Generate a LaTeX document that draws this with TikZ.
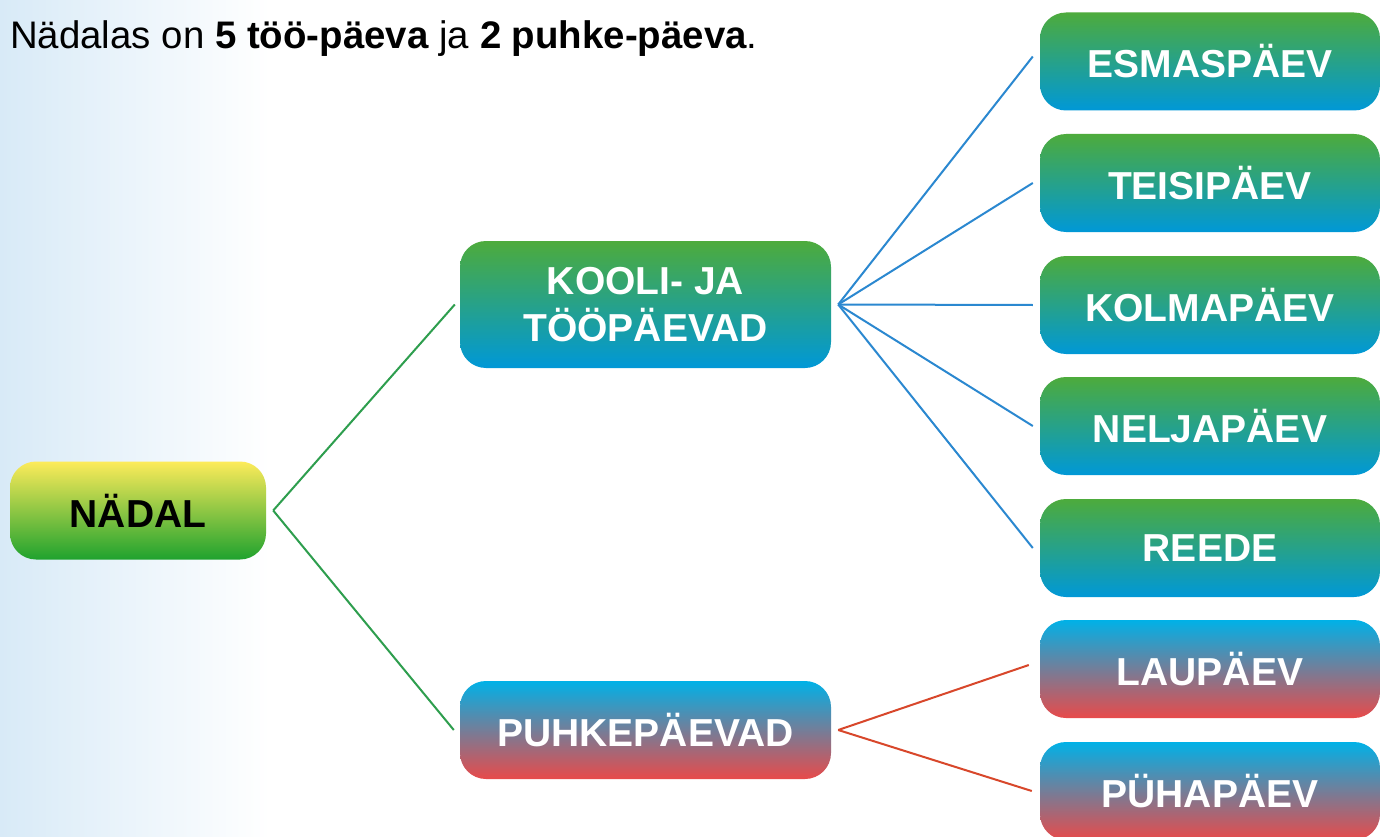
\documentclass[tikz,border=0pt]{standalone}
\usepackage{fontspec}
\setmainfont{Liberation Sans}
\definecolor{bgblue}{HTML}{D8EAF7}
\definecolor{ytop}{HTML}{FDEB5A}
\definecolor{ymid}{HTML}{A9CB46}
\definecolor{ybot}{HTML}{1FA22E}
\definecolor{gtop}{HTML}{4DAB3C}
\definecolor{gmid}{HTML}{20A097}
\definecolor{gbot}{HTML}{0098D7}
\definecolor{rtop}{HTML}{00B1E7}
\definecolor{rmid}{HTML}{B2878D}
\definecolor{rbot}{HTML}{E84A4A}
\definecolor{lgreen}{HTML}{2E9E4E}
\definecolor{lblue}{HTML}{2B88D0}
\definecolor{lred}{HTML}{D8472B}
\begin{document}
\begin{tikzpicture}[x=1pt,y=-1pt,
  box/.style={rounded corners=26pt, inner sep=0pt, align=center,
    font=\fontsize{39}{47}\selectfont\bfseries, text=white},
  yellowbox/.style={box, top color=ytop, middle color=ymid, bottom color=ybot, text=black},
  greenbox/.style={box, top color=gtop, middle color=gmid, bottom color=gbot},
  redbox/.style={box, top color=rtop, middle color=rmid, bottom color=rbot},
  day/.style={minimum width=340pt, minimum height=98pt},
  link/.style={line width=2pt}]
\useasboundingbox (0,0) rectangle (1381,837);
\clip (0,0) rectangle (1381,837);
\fill[white] (0,0) rectangle (1381,837);
\shade[left color=bgblue, right color=white] (0,0) rectangle (270,837);

\node[anchor=base west, inner sep=0pt, font=\fontsize{38.4}{46}\selectfont] (head) at (10,49)
  {Nädalas on \textbf{5 töö-päeva} ja \textbf{2 puhke-päeva}.};

\node[yellowbox, minimum width=256pt, minimum height=98pt] (nadal) at (138,510.5) {NÄDAL};
\node[greenbox, minimum width=371pt, minimum height=127pt] (kooli) at (645.5,304.5) {KOOLI- JA\\TÖÖPÄEVAD};
\node[redbox, minimum width=371pt, minimum height=98pt] (puhke) at (645.5,730) {PUHKEPÄEVAD};

\node[greenbox, day] (esm) at (1210,61.5) {ESMASPÄEV};
\node[greenbox, day] (tei) at (1210,183) {TEISIPÄEV};
\node[greenbox, day] (kol) at (1210,305) {KOLMAPÄEV};
\node[greenbox, day] (nel) at (1210,426) {NELJAPÄEV};
\node[greenbox, day] (ree) at (1210,548) {REEDE};
\node[redbox, day] (lau) at (1210,669) {LAUPÄEV};
\node[redbox, day] (pyh) at (1210,791) {PÜHAPÄEV};

\coordinate (n0) at ([xshift=7pt]nadal.east);
\draw[link, lgreen] (n0) -- ([xshift=-5pt]kooli.west);
\draw[link, lgreen] (n0) -- ([xshift=-6pt]puhke.west);

\coordinate (k0) at ([xshift=7pt]kooli.east);
\draw[link, lblue] (k0) -- ([xshift=-7pt,yshift=5pt]esm.west);
\foreach \d in {tei,kol,nel,ree}
  \draw[link, lblue] (k0) -- ([xshift=-7pt]\d.west);

\coordinate (p0) at ([xshift=7pt]puhke.east);
\draw[link, lred] (p0) -- ([xshift=-11pt,yshift=4pt]lau.west);
\draw[link, lred] (p0) -- ([xshift=-8pt]pyh.west);
\end{tikzpicture}
\end{document}
